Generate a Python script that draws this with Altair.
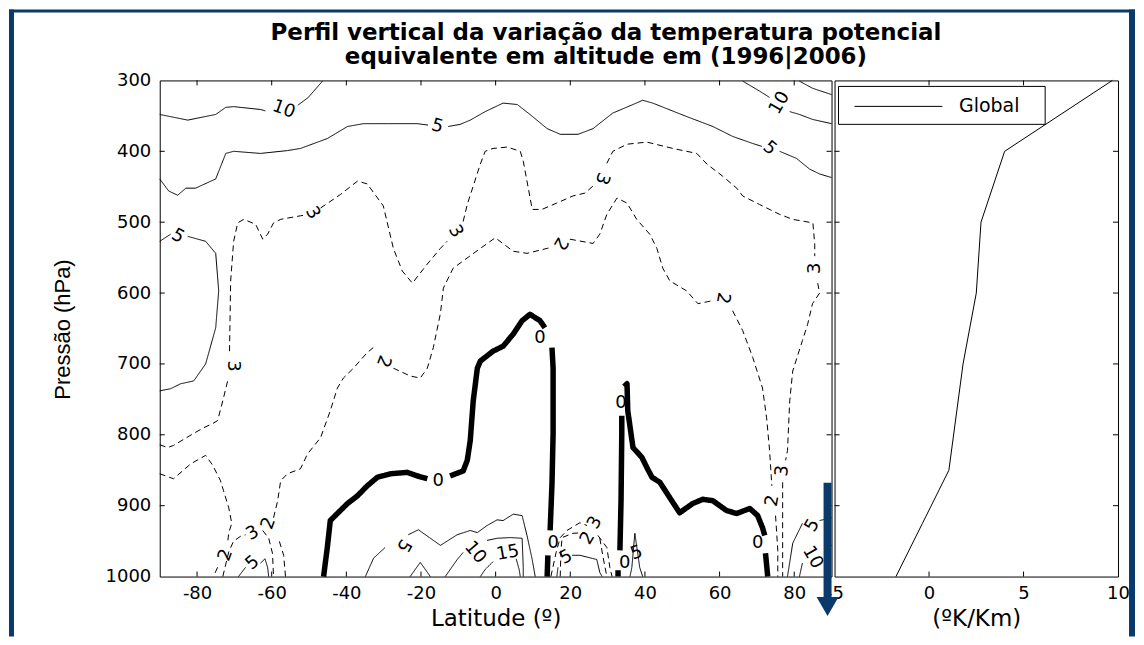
import altair as alt
import pandas as pd

NAVY = "#0a3a6c"
FONT = "DejaVu Sans"

TITLE_LINES = ["Perfil vertical da variação da temperatura potencial",
               "equivalente em altitude em (1996|2006)"]

# ---------------- axis tick values ----------------
LAT_TICKS = [-80, -60, -40, -20, 0, 20, 40, 60, 80]
P_TICKS = [300, 400, 500, 600, 700, 800, 900, 1000]
P_INNER = [400, 500, 600, 700, 800, 900]
K_TICKS = [-5, 0, 5, 10]
K_INNER = [0, 5]

# ---------------- global profile (right panel) ----------------
GLOBAL_P = [300, 400, 500, 600, 700, 850, 925, 1000]
GLOBAL_K = [9.7, 4.0, 2.75, 2.5, 1.8, 1.05, -0.35, -1.75]

# ---------------- contour segments (lat, pressure) ----------------
# solid contours (5, 10, 15)
S10_A1 = [(-90, 348), (-82.5, 356), (-75, 348), (-72.3, 338), (-70.2, 337), (-63, 341), (-61.7, 343)]
S10_A2 = [(-53, 335), (-50.2, 324), (-46.4, 301)]
S5_TOP1 = [(-90, 439), (-87.6, 456), (-85.2, 462), (-83.0, 452), (-80.4, 452), (-75.0, 439), (-72.3, 403),
           (-70.2, 400), (-63.0, 403), (-55.8, 399), (-52.3, 396), (-45.1, 382), (-39.7, 365), (-35.4, 361),
           (-29.0, 361), (-21.0, 361), (-18.1, 363)]
S5_TOP2 = [(-12.7, 365), (-9.5, 362), (-6.8, 356), (-2.8, 344), (2.0, 332), (5.8, 334), (9.2, 348), (13.8, 368),
           (17.3, 376), (22.1, 376), (26.1, 368), (31.4, 346), (36.8, 334), (39.4, 328), (42.1, 332), (51.2, 351),
           (58.2, 365), (63.5, 379), (68.9, 389), (71.3, 393)]
S5_TOP3 = [(76.1, 400), (80.6, 410), (84.1, 425), (86.8, 432), (90, 437)]
S10_B1 = [(66.2, 301), (70.7, 315), (73.4, 324)]
S10_B2 = [(78.8, 344), (81.4, 348), (84.9, 355), (90, 361)]
S15_B = [(81.4, 301), (84.9, 311), (90, 320)]
S5_LEFT1 = [(-90, 527), (-87.1, 517)]
S5_LEFT2 = [(-82.5, 520), (-77.7, 527), (-75, 544), (-74.2, 597), (-75, 649), (-77.7, 700), (-80.9, 724),
            (-84.4, 728), (-87.1, 735), (-90, 738)]
S5_SMALL1 = [(-68.9, 1000), (-67.0, 987)]
S5_SMALL2 = [(-63, 981), (-61.8, 975), (-61.1, 987), (-60.8, 1000)]
S5_MID1 = [(-34.9, 1000), (-32.7, 974), (-29.6, 959)]
S5_MID2 = [(-23.4, 941), (-20.7, 934), (-14.8, 956), (-10.3, 941), (-6.8, 935), (-4.9, 938), (-2.3, 928),
           (0.4, 920), (2.0, 921), (4.7, 912), (7.1, 914), (8.4, 942), (9.8, 976), (10.6, 1000)]
S10_TRI = [(-22.9, 1000), (-20.2, 980), (-17.5, 1000)]
S10_MID1 = [(-13.5, 1000), (-10.3, 976), (-8.7, 966)]
S10_MID2 = [(-2.3, 949), (0.4, 946), (3.9, 945), (7.1, 946), (7.4, 987), (7.4, 1000)]
S15_MID1 = [(-4.1, 1000), (-2.8, 990), (-0.7, 979)]
S15_MID2 = [(5.5, 975), (6.3, 990), (6.6, 1000)]
S5_R1 = [(16.4, 1000), (16.7, 987)]
S5_R2 = [(20.5, 970), (22.6, 970), (27.1, 976), (27.9, 994), (28.5, 1000)]
S5_SPIKE = [(36.0, 1000), (36.5, 987), (37.3, 939), (38.6, 987), (39.4, 1000)]
S5_FAR1 = [(78.2, 1000), (79.6, 953), (82.2, 925)]
S5_FAR2 = [(86.8, 921), (90, 917)]
S10_FAR1 = [(81.4, 1000), (82.2, 981)]
S10_FAR2 = [(88.1, 963), (90, 956)]

# dashed contours (2, 3)
D3_1 = [(-90, 814), (-87.9, 818), (-86.3, 815), (-80.9, 798), (-78.2, 790), (-75.8, 784), (-74.5, 780),
        (-73.1, 752), (-71.8, 724)]
D3_2 = [(-71.3, 682), (-71.0, 583), (-70.2, 527), (-69.1, 501), (-67.5, 496), (-64.3, 503), (-62.4, 524),
        (-61.1, 517), (-59.5, 501), (-57.6, 496), (-52.3, 491), (-50.9, 490)]
D3_3 = [(-46.9, 480), (-41.6, 461), (-37.0, 442), (-34.4, 446), (-30.1, 477), (-27.4, 537), (-25.0, 569),
        (-22.3, 586), (-18.3, 559), (-14.8, 537), (-13.0, 527)]
D3_4 = [(-8.7, 499), (-7.6, 475), (-4.1, 418), (-2.8, 400), (-0.7, 396), (3.1, 394), (6.6, 400), (7.4, 414),
        (8.4, 442), (9.8, 482), (12.4, 482), (16.4, 473), (20.7, 463), (23.9, 459), (26.1, 449)]
D3_5 = [(29.8, 417), (31.4, 400), (35.2, 390), (40.5, 387), (47.5, 396), (53.9, 403), (56.6, 418), (60.8, 435),
        (64.6, 452), (66.2, 463), (70.7, 475), (76.1, 489), (79.6, 496), (85.0, 501), (85.5, 531), (85.5, 548)]
D3_6 = [(86.3, 586), (86.8, 600), (84.9, 615), (83.6, 644), (82.2, 667), (79.6, 710), (78.8, 752), (78.2, 822),
        (77.7, 836)]
D3_7 = [(76.9, 867), (76.9, 949), (76.9, 1000)]
D2_1 = [(-56.3, 1000), (-56.8, 970), (-58.2, 946)]
D2_2 = [(-59.5, 917), (-58.4, 893), (-57.6, 865), (-55.8, 855), (-52.3, 848), (-50.4, 827), (-46.9, 804),
        (-44.3, 766), (-42.4, 734), (-40.8, 720), (-38.1, 706), (-34.4, 684), (-32.8, 677)]
D2_3 = [(-27.4, 706), (-22.9, 717), (-20.2, 720), (-18.3, 706), (-16.7, 677), (-14.8, 629), (-14.0, 593),
        (-11.4, 565), (-4.1, 537), (-0.1, 522), (4.7, 541), (8.4, 544), (13.8, 537), (15.1, 535)]
D2_4 = [(19.9, 524), (26.1, 530), (27.9, 517), (29.8, 489), (32.5, 466), (35.2, 473), (37.8, 496), (41.3, 517),
        (43.2, 537), (44.8, 565), (46.7, 583), (51.2, 597), (54.2, 615), (57.9, 611)]
D2_5 = [(63.5, 625), (66.2, 653), (68.9, 691), (71.5, 734), (72.6, 776), (73.4, 822), (74.0, 872)]
D2_6 = [(75.0, 914), (75.6, 963), (75.6, 1000)]
D2_LEFT1 = [(-90, 855), (-86.3, 862), (-81.7, 841), (-77.7, 829), (-75.8, 843), (-73.7, 865), (-72.9, 879),
            (-71.5, 903), (-70.7, 925), (-71.5, 938), (-71.8, 952)]
D2_LEFT2 = [(-74.5, 987), (-75.6, 1000)]
D3_ARCH1 = [(-73.1, 1000), (-71.5, 965), (-70.2, 950), (-68.3, 943), (-67.0, 941)]
D3_ARCH2 = [(-62.4, 935), (-60.8, 946), (-59.8, 967), (-59.5, 1000)]
D3_R1 = [(14.8, 1000), (16.2, 966), (17.3, 945), (19.1, 935), (22.6, 924), (24.5, 928)]
D3_R2 = [(27.4, 942), (29.8, 959), (30.6, 987), (31.2, 1000)]
D2_R1 = [(17.3, 1000), (17.5, 963), (17.8, 945), (20.7, 939), (23.9, 938)]
D2_R2 = [(27.9, 946), (28.8, 973), (29.8, 1000)]

# thick zero contours
Z1_1 = [(-46.1, 1000), (-45.1, 959), (-44.3, 921), (-42.4, 911), (-39.7, 897), (-37.0, 886), (-34.4, 872),
        (-31.7, 860), (-28.2, 855), (-23.7, 853), (-21.0, 858), (-18.3, 862)]
Z1_2 = [(-12.2, 858), (-8.7, 851), (-7.6, 836), (-6.8, 808), (-6.0, 752), (-4.9, 706), (-4.1, 696), (-0.7, 682),
        (2.0, 675), (4.7, 658), (7.1, 639), (9.2, 630), (11.9, 639), (13.2, 649)]
Z1_3 = [(15.1, 677), (15.4, 706), (15.4, 798), (15.1, 869), (14.6, 935)]
Z1_4 = [(14.0, 970), (13.8, 1000)]
Z2_1 = [(32.8, 1000), (32.8, 991)]
Z2_2 = [(33.3, 963), (33.6, 893), (33.8, 798), (33.8, 773)]
Z2_3 = [(34.4, 732), (35.2, 728), (35.4, 766), (36.8, 818), (39.2, 832), (40.5, 846), (41.9, 860), (44.0, 867),
        (46.7, 889), (49.3, 910), (52.8, 897), (55.5, 891), (58.2, 893), (61.9, 907), (64.6, 911), (68.1, 904),
        (70.2, 914), (71.5, 931), (72.1, 942)]
Z2_4 = [(72.3, 967), (72.9, 1000)]

SOLID = [S10_A1, S10_A2, S5_TOP1, S5_TOP2, S5_TOP3, S10_B1, S10_B2, S15_B, S5_LEFT1, S5_LEFT2, S5_SMALL1,
         S5_SMALL2, S5_MID1, S5_MID2, S10_TRI, S10_MID1, S10_MID2, S15_MID1, S15_MID2, S5_R1, S5_R2, S5_SPIKE,
         S5_FAR1, S5_FAR2, S10_FAR1, S10_FAR2]
DASHED = [D3_1, D3_2, D3_3, D3_4, D3_5, D3_6, D3_7, D2_1, D2_2, D2_3, D2_4, D2_5, D2_6, D2_LEFT1, D2_LEFT2,
          D3_ARCH1, D3_ARCH2, D3_R1, D3_R2, D2_R1, D2_R2]
ZERO = [Z1_1, Z1_2, Z1_3, Z1_4, Z2_1, Z2_2, Z2_3, Z2_4]

# ---------------- contour labels ----------------
LABEL_TEXT = ["10", "5", "5", "3", "3", "3", "3", "3", "2", "2", "2", "2", "3", "10", "5", "5", "10",
              "0", "0", "0", "0", "0", "0", "2", "3", "2", "5", "5", "10", "15", "5", "3", "2", "5"]
LABEL_LAT = [-56.8, -15.6, -85.2, -49.1, -10.8, 28.5, 85.5, -70.5, -30.1, 17.3, 60.8, 74.2, 76.9, 76.1, 73.4,
             84.9, 84.9, -15.4, 11.9, 15.4, 33.6, 34.6, 70.2, -72.3, -65.1, -60.8, -65.1, -24.7, -5.5, 3.3,
             18.9, 26.6, 24.7, 37.8]
LABEL_P = [341, 365, 520, 487, 513, 438, 565, 703, 696, 530, 607, 893, 851, 332, 396, 928, 973, 865, 663, 953,
           755, 981, 953, 970, 939, 925, 981, 956, 966, 967, 973, 924, 946, 967]
LABEL_ANGLE = [20, 15, 30, 60, 60, 110, 270, 90, 110, 120, 100, 280, 275, 300, 40, 300, 60, 0, 0, 0, 0, 0, 0,
               290, 330, 290, 320, 120, 50, 350, 330, 300, 300, 340]


def segments_frame(groups, style):
    rows = []
    for gi, pts in enumerate(groups):
        for i, (la, pr) in enumerate(pts):
            rows.append({"seg": f"{style}{gi}", "style": style, "lat": la, "p": pr, "i": i})
    return rows


contour_df = pd.DataFrame(segments_frame(SOLID, "solid") + segments_frame(DASHED, "dashed")
                          + segments_frame(ZERO, "zero"))
label_df = pd.DataFrame({"t": LABEL_TEXT, "lat": LABEL_LAT, "p": LABEL_P, "ang": LABEL_ANGLE})
lat_tick_df = pd.DataFrame({"lat": LAT_TICKS})
p_tick_df = pd.DataFrame({"p": P_INNER})
k_tick_df = pd.DataFrame({"k": K_INNER})
global_df = pd.DataFrame({"p": GLOBAL_P, "k": GLOBAL_K, "serie": "Global"})
one = pd.DataFrame({"a": [0]})

W_L, W_R, H = 673, 284, 497

xs = alt.Scale(domain=[-90, 90], nice=False, zero=False)
ys = alt.Scale(domain=[300, 1000], reverse=True, nice=False, zero=False)
ks = alt.Scale(domain=[-5, 10], nice=False, zero=False)

XAX = alt.Axis(values=LAT_TICKS, title="Latitude (º)", labelExpr="'' + datum.value")
YAX = alt.Axis(values=P_TICKS, title="Pressão (hPa)", labelExpr="'' + datum.value",
               titleFont="Liberation Sans", titleFontSize=22, titleX=-97, titleY=249,
               titleAlign="center", titleBaseline="middle", titleAngle=270)
KAX = alt.Axis(values=K_TICKS, title="(ºK/Km)", labelExpr="'' + datum.value")
YAX_R = alt.Axis(labels=False, ticks=False, domain=False, title=None, grid=False)

X_L = alt.X("lat:Q", scale=xs, axis=XAX)
Y_L = alt.Y("p:Q", scale=ys, axis=YAX)

base = alt.Chart(contour_df)


def contour_layer(style, width, dash):
    return base.transform_filter(alt.datum.style == style).mark_line(
        color="black", strokeWidth=width, strokeDash=dash, strokeCap="butt", strokeJoin="round"
    ).encode(x=X_L, y=Y_L, detail="seg:N", order="i:Q")


# navy page border (also defines the overall drawing bounds)
frame_left = alt.Chart(one).mark_rect(color=NAVY).encode(
    x=alt.value(-151), x2=alt.value(-146), y=alt.value(-71), y2=alt.value(557))
frame_top = alt.Chart(one).mark_rect(color=NAVY).encode(
    x=alt.value(-151), x2=alt.value(977), y=alt.value(-71), y2=alt.value(-68))
frame_right = alt.Chart(one).mark_rect(color=NAVY).encode(
    x=alt.value(971), x2=alt.value(977), y=alt.value(-71), y2=alt.value(557))

title_text = alt.Chart(one).mark_text(font=FONT, fontSize=23, fontWeight="bold", color="black",
                                      align="center", baseline="alphabetic", lineHeight=25).encode(
    x=alt.value(447), y=alt.value(-41), text=alt.value(TITLE_LINES))

lt_bottom = alt.Chart(lat_tick_df).mark_rule(color="black").encode(x=X_L, y=alt.value(H), y2=alt.value(H - 5))
lt_top = alt.Chart(lat_tick_df).mark_rule(color="black").encode(x=X_L, y=alt.value(0), y2=alt.value(5))
pt_left = alt.Chart(p_tick_df).mark_rule(color="black").encode(y=Y_L, x=alt.value(0), x2=alt.value(5))
pt_right = alt.Chart(p_tick_df).mark_rule(color="black").encode(y=Y_L, x=alt.value(W_L), x2=alt.value(W_L - 5))

labels = alt.Chart(label_df).mark_text(font=FONT, fontSize=18, color="black", align="center",
                                       baseline="middle").encode(
    x=X_L, y=Y_L, text="t:N", angle=alt.Angle("ang:Q", scale=None))

left = alt.layer(
    contour_layer("dashed", 1, [6, 4]),
    contour_layer("solid", 1, [1, 0]),
    contour_layer("zero", 5.5, [1, 0]),
    labels, lt_bottom, lt_top, pt_left, pt_right,
    frame_left, frame_top, frame_right, title_text,
).properties(width=W_L, height=H)

X_R = alt.X("k:Q", scale=ks, axis=KAX)
Y_R = alt.Y("p:Q", scale=ys, axis=YAX_R)

global_line = alt.Chart(global_df).mark_line(color="black", strokeWidth=1).encode(
    x=X_R, y=Y_R, order="p:Q")
kt_bottom = alt.Chart(k_tick_df).mark_rule(color="black").encode(x=X_R, y=alt.value(H), y2=alt.value(H - 5))
kt_top = alt.Chart(k_tick_df).mark_rule(color="black").encode(x=X_R, y=alt.value(0), y2=alt.value(5))
ptr_left = alt.Chart(p_tick_df).mark_rule(color="black").encode(y=Y_R, x=alt.value(0), x2=alt.value(5))
ptr_right = alt.Chart(p_tick_df).mark_rule(color="black").encode(y=Y_R, x=alt.value(W_R), x2=alt.value(W_R - 5))

leg_box = alt.Chart(one).mark_rect(fill="white", stroke="black", strokeWidth=1).encode(
    x=alt.value(4), x2=alt.value(211), y=alt.value(6), y2=alt.value(44))
leg_line = alt.Chart(one).mark_rule(color="black", strokeWidth=1).encode(
    x=alt.value(20), x2=alt.value(108), y=alt.value(26))
leg_text = alt.Chart(global_df.head(1)).mark_text(font=FONT, fontSize=19, color="black", align="center",
                                                  baseline="middle").encode(
    x=alt.value(155), y=alt.value(26), text="serie:N")

arrow_shaft = alt.Chart(one).mark_rule(color=NAVY, strokeWidth=8).encode(
    x=alt.value(-7), y=alt.value(403), y2=alt.value(521))
arrow_head = alt.Chart(one).mark_point(shape="triangle-down", filled=True, size=484, color=NAVY,
                                       opacity=1).encode(x=alt.value(-7), y=alt.value(527))

right = alt.layer(
    global_line, kt_bottom, kt_top, ptr_left, ptr_right, leg_box, leg_line, leg_text,
    arrow_shaft, arrow_head,
).properties(width=W_R, height=H)

chart = alt.hconcat(left, right, spacing=3, bounds="flush").properties(
    padding=0,
    background="white",
).configure_view(stroke="black", strokeWidth=1).configure_axis(
    grid=False, ticks=False, domain=False, labelFont=FONT, labelFontSize=18, labelColor="black",
    labelPadding=8, labelFlush=False, labelOverlap=False, titleFont=FONT, titleFontSize=23,
    titleFontWeight="normal", titleColor="black", titlePadding=5
).configure_axisY(labelPadding=9)

chart.save("out.html", embed_options={"renderer": "svg", "actions": False})
